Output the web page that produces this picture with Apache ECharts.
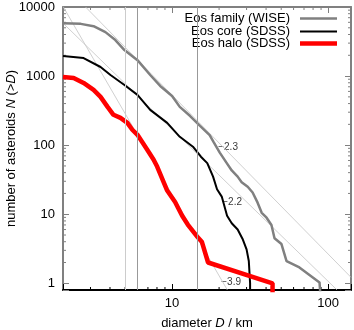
<!DOCTYPE html>
<html>
<head>
<meta charset="utf-8">
<script src="https://cdn.jsdelivr.net/npm/echarts@6/dist/echarts.min.js"></script>
<style>
  html, body { margin: 0; padding: 0; background: #fff; }
  #chart { width: 354px; height: 330px; }
</style>
</head>
<body>
<div id="chart"></div>
<script>
const FONT = '"Liberation Sans", Arial, Helvetica, sans-serif';

// cumulative size distributions: diameter D (km) vs N(>D)
const familyD = [2.0, 2.6, 3.14, 3.74, 4.33, 4.95, 6.0, 7.24, 8.39, 10.0, 11.2, 13.0, 15.1, 17.4, 18.5, 20.2, 22.4, 24.1, 26.3, 27.9, 30.5, 32.8, 35.3, 37.5, 40.3, 43.3, 45.3, 50.2, 54.1, 65.4, 88, 90, 90];
const familyN = [5840, 5700, 5280, 4330, 3320, 2380, 1700, 1037, 720, 516, 358, 266, 190, 140, 110, 78, 55, 43, 35, 29, 25, 20.6, 14.7, 10.5, 8.9, 7.0, 4.5, 3.7, 2.1, 1.7, 1.03, 1, 0.5];
const coreD = [2.0, 2.71, 3.48, 4.03, 4.95, 6.0, 7.24, 9.3, 11.2, 13.6, 15.3, 16.8, 18.3, 19.4, 20.8, 22.5, 24.1, 26.3, 28.4, 30.0, 31.0, 31.6, 31.6];
const coreN = [1950, 1824, 1353, 1037, 744, 534, 324, 210, 132, 95, 68, 55, 35, 23, 18, 9.5, 7.4, 6.0, 4.3, 3.1, 2.1, 1, 0.5];
const haloD = [2.0, 2.34, 2.71, 3.14, 3.48, 3.86, 4.21, 4.67, 5.17, 5.56, 6.0, 6.93, 7.6, 8.02, 9.3, 10.45, 11.6, 12.6, 14.4, 15.5, 17.0, 44.0, 44.0];
const haloN = [970, 939, 795, 630, 500, 358, 275, 248, 210, 167, 141, 86, 62, 49, 22, 15, 9.5, 7.1, 4.8, 4.0, 2.0, 1.0, 0.5];

// power-law guide lines, end points
const fit23 = [[2.79, 10000], [140, 1.22]];
const fit22 = [[2.0, 5840], [114, 0.8]];
const fit39 = [[2.0, 10200], [22.6, 0.8]];
const slopeLabels = ['\u22122.3', '\u22122.2', '\u22123.9'];
const slopeLabelAt = [[19.6, 94.8], [20.8, 14.7], [20.5, 1.03]];

// vertical markers (km)
const markerD = [5, 6, 14.5];

// tick values
const xTickLabels = [10, 100];
const yTickLabels = [1, 10, 100, 1000, 10000];
const xMinorTicks = [3, 4, 5, 6, 7, 8, 9, 20, 30, 40, 50, 60, 70, 80, 90];
const yMinorTicks = [2, 3, 4, 5, 6, 7, 8, 9, 20, 30, 40, 50, 60, 70, 80, 90,
  200, 300, 400, 500, 600, 700, 800, 900, 2000, 3000, 4000, 5000, 6000, 7000, 8000, 9000];

const seriesNames = ['Eos family (WISE)', 'Eos core (SDSS)', 'Eos halo (SDSS)'];

function zip(xs, ys) {
  return xs.map((x, i) => [x, ys[i]]);
}

function isTick(list, v) {
  return list.some(t => Math.abs(t - v) < 1e-6 * t);
}

function legendFor(name, top, height) {
  return {
    data: [name],
    right: 17,
    top: top,
    padding: 0,
    align: 'right',
    icon: 'rect',
    itemWidth: 37,
    itemHeight: height,
    selectedMode: false,
    textStyle: {fontFamily: FONT, fontSize: 13, color: '#000', padding: [0, 5, 0, 0]}
  };
}

const minorTickData = xMinorTicks.map(v => [v, 1, 0]).concat(yMinorTicks.map(v => [10, v, 1]));

const chart = echarts.init(document.getElementById('chart'));

chart.setOption({
  animation: false,
  textStyle: {fontFamily: FONT},
  grid: {left: 63, right: 3, top: 7, bottom: 40, containLabel: false, outerBoundsMode: 'none'},
  legend: [
    legendFor(seriesNames[0], 12, 2.5),
    legendFor(seriesNames[1], 25, 2),
    legendFor(seriesNames[2], 37, 4.5)
  ],
  xAxis: [
    {
      type: 'log',
      min: 2,
      max: 140,
      name: 'diameter {i|D} / km',
      nameLocation: 'middle',
      nameGap: 27,
      nameTextStyle: {fontSize: 13, color: '#000', fontFamily: FONT,
        rich: {i: {fontStyle: 'italic', fontSize: 13, fontFamily: FONT}}},
      axisLine: {lineStyle: {color: '#000', width: 2}},
      axisTick: {inside: true, length: 6, lineStyle: {color: '#000'}},
      axisLabel: {
        fontSize: 13, color: '#000', margin: 7,
        formatter: v => (isTick(xTickLabels, v) ? String(Math.round(v)) : '')
      },
      splitLine: {show: false}
    },
    {
      type: 'log',
      min: 2,
      max: 140,
      position: 'top',
      axisLine: {lineStyle: {color: '#808080', width: 2}},
      axisTick: {inside: true, length: 6, lineStyle: {color: '#808080'}},
      axisLabel: {show: false},
      splitLine: {show: false}
    }
  ],
  yAxis: [
    {
      type: 'log',
      min: 0.8,
      max: 10000,
      name: 'number of asteroids {i|N} (>{i|D})',
      nameLocation: 'middle',
      nameGap: 45,
      nameMoveOverlap: false,
      nameTextStyle: {fontSize: 13, color: '#000', fontFamily: FONT,
        rich: {i: {fontStyle: 'italic', fontSize: 13, fontFamily: FONT}}},
      axisLine: {lineStyle: {color: '#808080', width: 2}},
      axisTick: {inside: true, length: 6, lineStyle: {color: '#808080'}},
      axisLabel: {
        fontSize: 13, color: '#000', margin: 8,
        formatter: v => (isTick(yTickLabels, v) ? String(Math.round(v)) : '')
      },
      splitLine: {show: false}
    },
    {
      type: 'log',
      min: 0.8,
      max: 10000,
      position: 'right',
      axisLine: {lineStyle: {color: '#808080', width: 2}},
      axisTick: {inside: true, length: 6, lineStyle: {color: '#808080'}},
      axisLabel: {show: false},
      splitLine: {show: false}
    }
  ],
  series: [
    {
      name: 'markers',
      type: 'line',
      data: [],
      silent: true,
      markLine: {
        silent: true,
        symbol: ['none', 'none'],
        label: {show: false},
        data: markerD.map((d, i) => ({
          xAxis: d,
          lineStyle: {color: i === 0 ? '#cccccc' : '#999999', width: 1, type: 'solid'}
        }))
      }
    },
    ...[fit23, fit22, fit39].map((pts, i) => ({
      name: 'fit' + i,
      type: 'line',
      data: pts,
      showSymbol: false,
      silent: true,
      lineStyle: {color: '#c4c4c4', width: 0.8}
    })),
    {
      name: 'slopes',
      type: 'scatter',
      data: slopeLabels.map((s, i) => ({name: s, value: slopeLabelAt[i]})),
      symbolSize: 1,
      itemStyle: {color: 'rgba(0,0,0,0)'},
      silent: true,
      label: {show: true, position: 'right', distance: 0, formatter: '{b}',
        fontSize: 10, color: '#000', fontFamily: FONT}
    },
    {
      name: seriesNames[0],
      type: 'line',
      data: zip(familyD, familyN),
      showSymbol: false,
      color: '#808080',
      lineStyle: {color: '#808080', width: 2.5}
    },
    {
      name: seriesNames[1],
      type: 'line',
      data: zip(coreD, coreN),
      showSymbol: false,
      color: '#000000',
      lineStyle: {color: '#000000', width: 2}
    },
    {
      name: seriesNames[2],
      type: 'line',
      data: zip(haloD, haloN),
      showSymbol: false,
      color: '#ff0000',
      lineStyle: {color: '#ff0000', width: 4.5}
    },
    {
      name: 'minorTicks',
      type: 'custom',
      silent: true,
      data: minorTickData,
      renderItem: (params, api) => {
        const cs = params.coordSys;
        const len = 3;
        if (api.value(2) === 0) {
          const px = api.coord([api.value(0), 1])[0];
          return {type: 'group', children: [
            {type: 'line', shape: {x1: px, y1: cs.y + cs.height, x2: px, y2: cs.y + cs.height - len}, style: {stroke: '#000', lineWidth: 1}},
            {type: 'line', shape: {x1: px, y1: cs.y, x2: px, y2: cs.y + len}, style: {stroke: '#808080', lineWidth: 1}}
          ]};
        }
        const py = api.coord([10, api.value(1)])[1];
        return {type: 'group', children: [
          {type: 'line', shape: {x1: cs.x, y1: py, x2: cs.x + len, y2: py}, style: {stroke: '#808080', lineWidth: 1}},
          {type: 'line', shape: {x1: cs.x + cs.width, y1: py, x2: cs.x + cs.width - len, y2: py}, style: {stroke: '#808080', lineWidth: 1}}
        ]};
      }
    }
  ]
});
</script>
</body>
</html>
